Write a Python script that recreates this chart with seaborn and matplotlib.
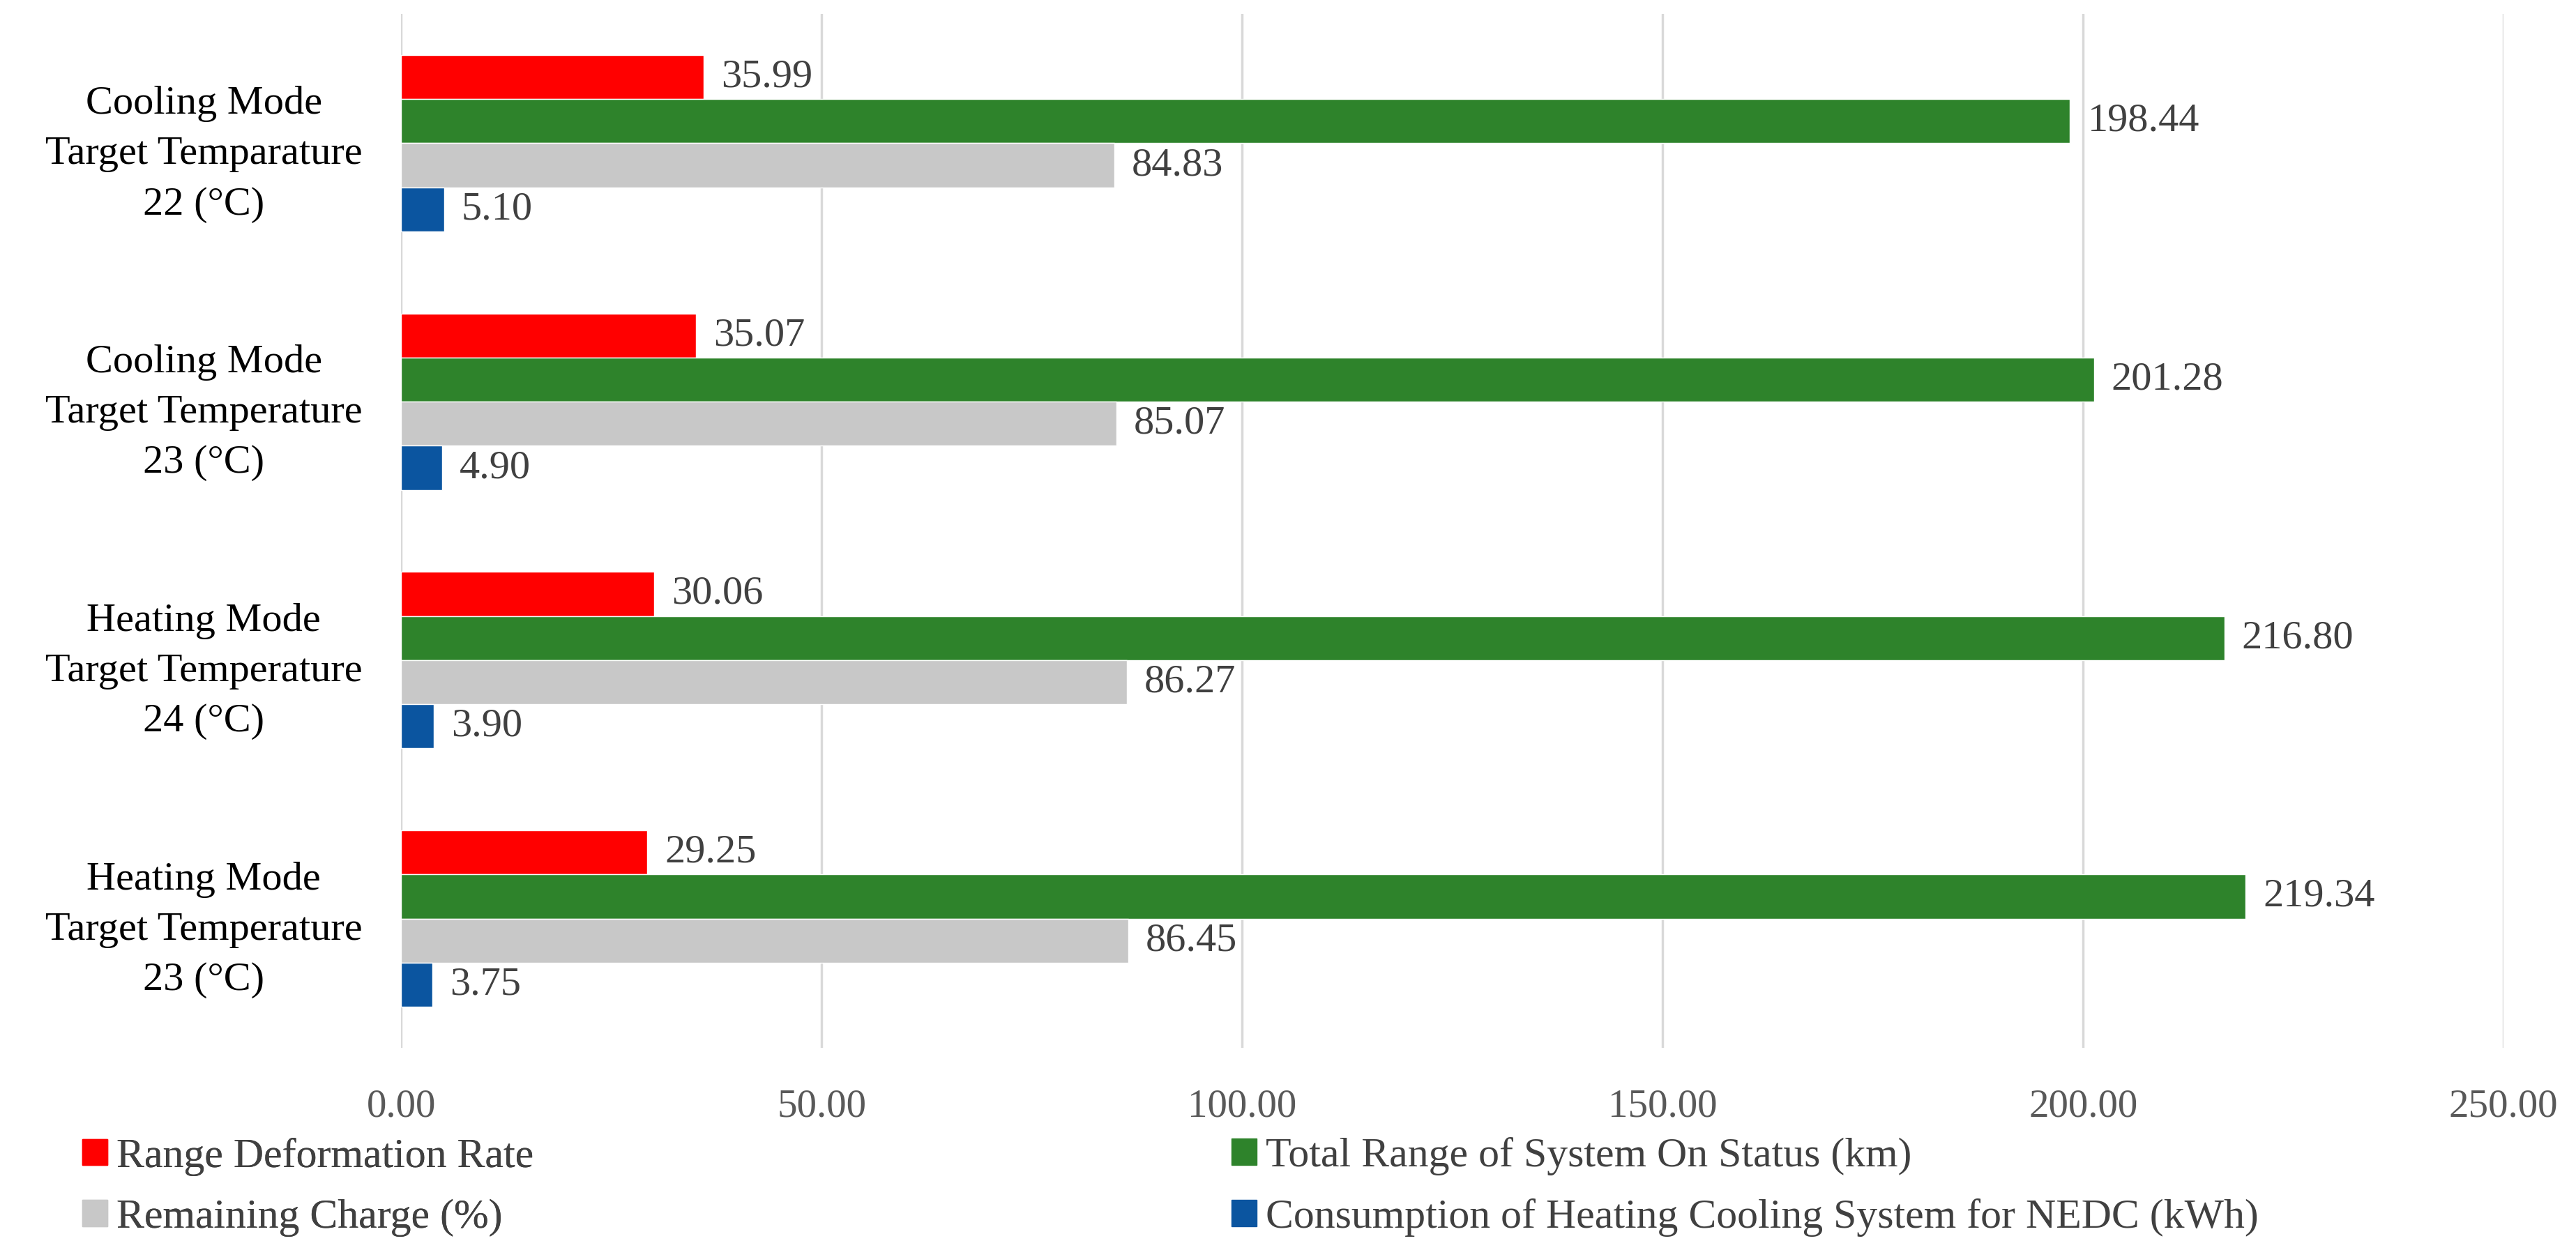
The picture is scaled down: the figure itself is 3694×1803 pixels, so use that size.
import numpy as np
import pandas as pd
import matplotlib
matplotlib.use("Agg")
import matplotlib.pyplot as plt
import seaborn as sns

categories = [
    "Cooling Mode\nTarget Temparature\n22 (°C)",
    "Cooling Mode\nTarget Temperature\n23 (°C)",
    "Heating Mode\nTarget Temperature\n24 (°C)",
    "Heating Mode\nTarget Temperature\n23 (°C)",
]
series = [
    "Range Deformation Rate",
    "Total Range of System On Status (km)",
    "Remaining Charge (%)",
    "Consumption of Heating Cooling System for NEDC (kWh)",
]
range_deformation = [35.99, 35.07, 30.06, 29.25]
total_range       = [198.44, 201.28, 216.80, 219.34]
remaining_charge  = [84.83, 85.07, 86.27, 86.45]
consumption       = [5.10, 4.90, 3.90, 3.75]
colors = ["#FF0000", "#2E832B", "#C8C8C8", "#0B55A0"]
x_ticks = [0, 50, 100, 150, 200, 250]

df = pd.DataFrame({
    "category": np.repeat(categories, 4),
    "series": series * 4,
    "value": np.ravel(np.column_stack([range_deformation, total_range,
                                       remaining_charge, consumption])),
})

sns.set_style("white")
plt.rcParams["font.family"] = ["Liberation Serif", "DejaVu Serif"]

fig = plt.figure(figsize=(36.94, 18.03), dpi=100)
ax = fig.add_axes([0.1557, 0.1664, 0.8162, 0.8225])

sns.barplot(data=df, y="category", x="value", hue="series", orient="h",
            order=categories, hue_order=series, palette=colors,
            width=0.683, saturation=1, ax=ax, legend=False)

for cont in ax.containers:
    ax.bar_label(cont, fmt="%.2f", padding=18, fontsize=42, color="#404040")

ax.set_xlim(0, 250)
ax.set_ylim(3.5, -0.5)
ax.set_xticks(x_ticks)
ax.set_xticklabels([f"{t:.2f}" for t in x_ticks])
ax.set_xlabel(""); ax.set_ylabel("")
ax.grid(axis="x", color="#D9D9D9", linewidth=2.5)
ax.set_axisbelow(True)
for s in ax.spines.values():
    s.set_visible(False)
ax.tick_params(axis="x", length=0, labelsize=41, labelcolor="#595959", pad=42)
ax.tick_params(axis="y", length=0, labelsize=42, labelcolor="black", pad=40)
for lab in ax.get_yticklabels():
    lab.set_multialignment("center")
    lab.set_linespacing(1.5)
    lab.set_verticalalignment("center_baseline")

# legend: two one-column legends so the rows read left to right
handles = [plt.Rectangle((0, 0), 1, 1, color=c) for c in colors]
common = dict(loc="center left", frameon=False, fontsize=43,
              labelcolor="#404040", handlelength=0.6, handleheight=0.6,
              handletextpad=0.22, labelspacing=0.55, borderpad=0,
              borderaxespad=0)
leg1 = fig.legend([handles[0], handles[2]], [series[0], series[2]],
                  bbox_to_anchor=(0.032, 0.0557), **common)
fig.add_artist(leg1)
fig.legend([handles[1], handles[3]], [series[1], series[3]],
           bbox_to_anchor=(0.478, 0.0557), **common)

fig.savefig("out.png", dpi=100)
